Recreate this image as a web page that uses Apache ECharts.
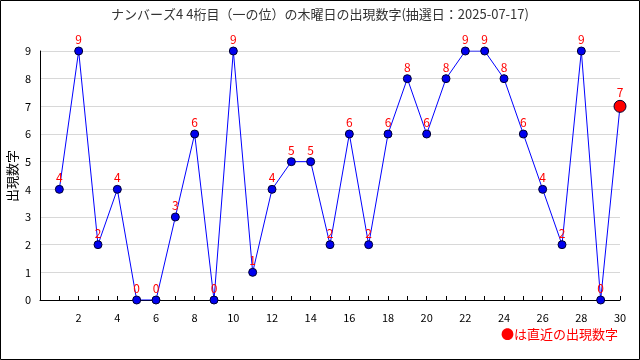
<!DOCTYPE html>
<html><head><meta charset="utf-8">
<script src="https://cdn.jsdelivr.net/npm/echarts@6/dist/echarts.min.js"></script>
<style>html,body{margin:0;padding:0;background:#fff}#c{width:640px;height:360px}</style>
</head><body><div id="c"></div>
<script>
const draws = [1,2,3,4,5,6,7,8,9,10,11,12,13,14,15,16,17,18,19,20,21,22,23,24,25,26,27,28,29,30];
const digits = [4,9,2,4,0,0,3,6,0,9,1,4,5,5,2,6,2,6,8,6,8,9,9,8,6,4,2,9,0,7];
const yTicks = [0,1,2,3,4,5,6,7,8,9];
const titleText = 'ナンバーズ4 4桁目（一の位）の木曜日の出現数字(抽選日：2025-07-17)';
const yName = '出現数字';
const noteText = '●は直近の出現数字';

const font = '"Noto Sans CJK JP", "DejaVu Sans", sans-serif';
const data = draws.map((d, i) => {
  const last = i === draws.length - 1;
  return {
    value: [d, digits[i]],
    symbolSize: last ? 12 : 8,
    itemStyle: { color: last ? '#ff0000' : '#0000ee', borderColor: '#000033', borderWidth: 1 }
  };
});
const chart = echarts.init(document.getElementById('c'), null, { renderer: 'canvas' });
chart.setOption({
  animation: false,
  backgroundColor: '#fff',
  title: { text: titleText, left: 'center', top: 3, textStyle: { fontSize: 13, fontWeight: 'normal', color: '#333', fontFamily: font } },
  grid: { left: 40, right: 20, top: 51, bottom: 60, containLabel: false, outerBoundsMode: 'none' },
  xAxis: {
    type: 'value', min: 0, max: 30, interval: 1,
    axisLine: { lineStyle: { color: '#000', width: 1 } },
    axisTick: { inside: true, length: 4, lineStyle: { color: '#000' } },
    axisLabel: { color: '#000', fontSize: 11, fontFamily: font, margin: 12, showMinLabel: true, showMaxLabel: true,
      formatter: v => (v > 0 && v % 2 === 0) ? String(v) : '' },
    splitLine: { show: false }
  },
  yAxis: {
    type: 'value', min: yTicks[0], max: yTicks[yTicks.length - 1], interval: 1,
    axisLine: { show: true, lineStyle: { color: '#000', width: 1 } },
    axisTick: { show: false },
    axisLabel: { color: '#000', fontSize: 11, fontFamily: font, margin: 9 },
    splitLine: { lineStyle: { color: '#d8d8d8', width: 1 } }
  },
  series: [{
    type: 'line', data: data, symbol: 'circle',
    lineStyle: { color: '#0000ff', width: 1 },
    label: { show: true, position: 'top', distance: 1, color: '#ff0000', fontSize: 12, fontFamily: font,
      formatter: p => String(p.value[1]) },
    z: 3
  }],
  graphic: [
    { type: 'rect', shape: { x: 0.5, y: 0.5, width: 639, height: 359 }, style: { fill: 'none', stroke: '#000', lineWidth: 1 }, silent: true },
    { type: 'text', x: 12, y: 176, rotation: Math.PI / 2, style: { text: yName, fill: '#000', font: '13px ' + font, align: 'center', verticalAlign: 'middle' } },
    { type: 'text', x: 618, y: 334, style: { text: noteText, fill: '#ff0000', font: '13px ' + font, align: 'right', verticalAlign: 'middle' } }
  ]
});
</script></body></html>
